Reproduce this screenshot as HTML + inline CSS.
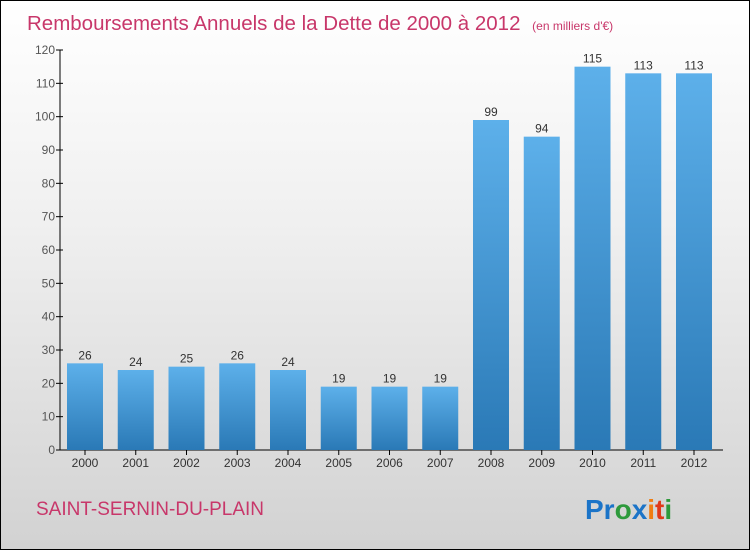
<!DOCTYPE html>
<html><head><meta charset="utf-8"><style>
body{margin:0}
#c{width:748px;height:548px;border:1px solid #000;position:relative;background:linear-gradient(#ffffff,#f0f0f0 40%,#d2d2d2);font-family:"Liberation Sans",sans-serif;overflow:hidden}
</style></head><body>
<div id="c">
<svg id="s" width="748" height="548" xmlns="http://www.w3.org/2000/svg">
<defs><linearGradient id="g" x1="0" y1="0" x2="0" y2="1"><stop offset="0" stop-color="#5db0ea"/><stop offset="1" stop-color="#2a79b6"/></linearGradient></defs>
<text x="26" y="29" font-size="20.5" fill="#c8376a">Remboursements Annuels de la Dette de 2000 à 2012 <tspan font-size="12" dx="6">(en milliers d'€)</tspan></text>
<text x="35" y="514" font-size="19" fill="#c8376a">SAINT-SERNIN-DU-PLAIN</text>
<g font-size="28" font-weight="bold" font-family="Liberation Sans, sans-serif"><text x="584" y="518"><tspan fill="#1b74c8">Pr</tspan><tspan fill="#2e9a3c">o</tspan><tspan fill="#1b74c8">x</tspan><tspan fill="#f07d12">i</tspan><tspan fill="#e03a1a">t</tspan><tspan fill="#2e9a3c">i</tspan></text></g>
<g id="plot"></g>
</svg></div>
<script>
const years=["2000","2001","2002","2003","2004","2005","2006","2007","2008","2009","2010","2011","2012"];
const values=[26,24,25,26,24,19,19,19,99,94,115,113,113];
const ticks=[0,10,20,30,40,50,60,70,80,90,100,110,120];
const ns="http://www.w3.org/2000/svg",g=document.getElementById('plot');
const y=v=>449-v*(400/120), x=i=>84+i*50.75;
function el(t,a){const e=document.createElementNS(ns,t);for(const k in a)e.setAttribute(k,a[k]);g.appendChild(e);return e;}
let ax=el('line',{x1:59,y1:49,x2:59,y2:449,stroke:'#000'});


let bx=el('line',{x1:59,y1:449,x2:722,y2:449,stroke:'#000'});


ticks.forEach(t=>{
 el('line',{x1:55,x2:62,y1:y(t),y2:y(t),stroke:'#000'});
 const l=el('text',{x:54,y:y(t)+4,'text-anchor':'end','font-size':12,fill:'#555'});l.textContent=t;
 
 
});
years.forEach((yr,i)=>{
 const r=el('rect',{x:x(i)-18,y:y(values[i]),width:36,height:449-y(values[i]),fill:'url(#g)'});
 
 
 el('line',{x1:x(i),x2:x(i),y1:449,y2:454,stroke:'#000'});
 const t=el('text',{x:x(i),y:466,'text-anchor':'middle','font-size':12,fill:'#333'});t.textContent=yr;
 
 
 const v=el('text',{x:x(i),y:y(values[i])-4,'text-anchor':'middle','font-size':12,fill:'#333'});v.textContent=values[i];
 
 
});
</script>
</body></html>
